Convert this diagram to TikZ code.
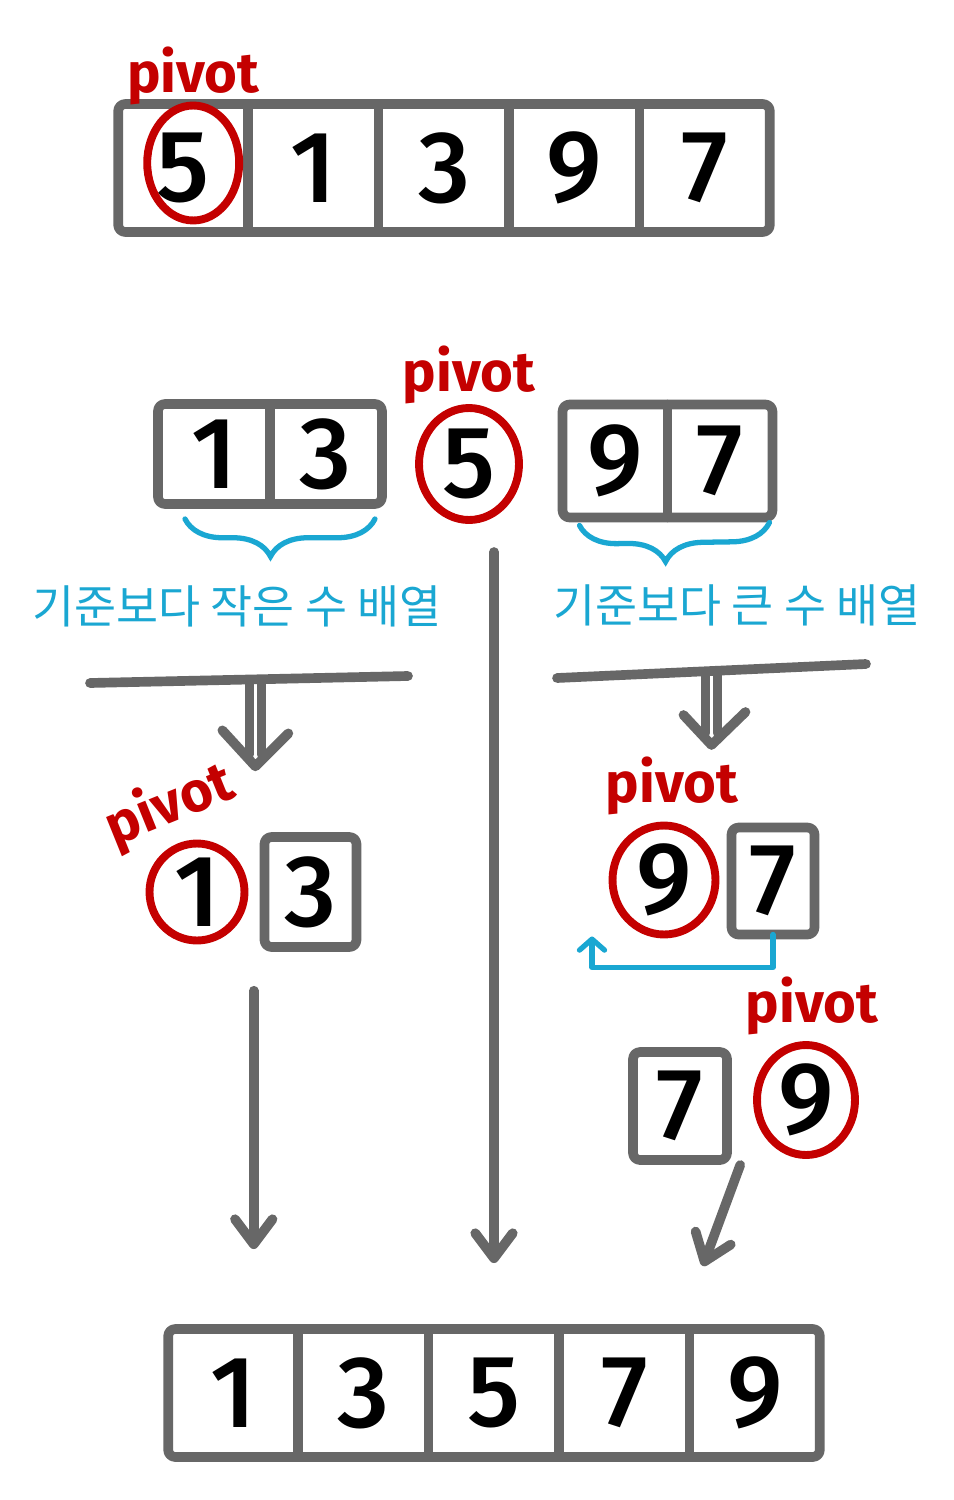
\documentclass[tikz,border=0pt]{standalone}
\usepackage{fontspec}
\setmainfont{Fira Sans}
\newfontfamily\digfont{Fira Sans Medium}
\newfontfamily\krfont{Noto Sans CJK KR}
\usetikzlibrary{positioning,arrows.meta,calc,shapes.geometric,decorations.pathreplacing}
\definecolor{gray}{HTML}{676767}
\definecolor{red}{HTML}{C40000}
\definecolor{blue}{HTML}{1AA7D2}
\tikzset{
  pen/.style={draw=gray,line width=5.5pt,line cap=round,line join=round},
  box/.style={pen,rounded corners=4pt},
  num/.style={font=\digfont\fontsize{58}{58}\selectfont,text=black,inner sep=0pt,outer sep=0pt},
  acell/.style={num,minimum width=2.6cm,minimum height=2.56cm},
  ring/.style={ellipse,draw=red,line width=4.5pt,inner sep=0pt,outer sep=0pt},
  pivlbl/.style={font=\bfseries\fontsize{32}{32}\selectfont,text=red,inner sep=0pt},
  note/.style={font=\krfont\fontsize{26}{26}\selectfont,text=blue},
  brc/.style={draw=blue,line width=3pt,line cap=round,decorate,
    decoration={brace,mirror,amplitude=.75cm,aspect=.45}},
  flow/.style={pen,-{Straight Barb[round,length=.5cm,width=.75cm]}},
  swap/.style={draw=blue,line width=3pt,line cap=round,line join=round,
    -{Straight Barb[round,length=.22cm,width=.5cm]}},
}
\begin{document}
\begin{tikzpicture}[x=.02cm,y=-.02cm]
        \fill[white] (0,0) rectangle (953,1500);
        \useasboundingbox (0,0) rectangle (953,1500);
        % input array
        \foreach \v [count=\i] in {5,1,3,9,7}{\node[acell] (a\i) at ({118+130.4*(\i-.5)},168){\v};}
        \draw[box] (a1.north west) rectangle (a5.south east);
        \foreach \i in {1,...,4}{\draw[pen] (a\i.north east)--(a\i.south east);}
        \node[ring,minimum width=1.84cm,minimum height=2.3cm] (ring0) at ($(a1)+(10,-5)$){};
        \node[pivlbl,above=0pt of ring0] (piv0){pivot};
        % split around the pivot
        \node[num,minimum width=2.24cm,minimum height=2cm] (l1) at (214,454){1};
        \node[num,minimum width=2.24cm,minimum height=2cm,right=0pt of l1] (l2){3};
        \draw[box] (l1.north west) rectangle (l2.south east);
        \draw[pen] (l1.north east)--(l1.south east);
        \node[ring,num,minimum width=2cm,minimum height=2.24cm] (ring5) at (469,464){5};
        \node[pivlbl,above=2pt of ring5] (piv5){pivot};
        \node[num,minimum width=2.1cm,minimum height=2.26cm] (r1) at (615,461){9};
        \node[num,minimum width=2.1cm,minimum height=2.26cm,right=0pt of r1] (r2){7};
        \draw[box] (r1.north west) rectangle (r2.south east);
        \draw[pen] (r1.north east)--(r1.south east);
        \draw[brc] ($(l1.south west)+(27,15)$)--($(l2.south east)+(-7,15)$);
        \draw[brc] ($(r1.south west)+(17,8)$)--($(r2.south east)+(-3,5)$);
        \node[note] (lnote) at (237,606){기준보다 작은 수 배열};
        \node[note] (rnote) at (737,605){기준보다 큰 수 배열};
        \draw[pen] (90,683)-- coordinate[pos=.52] (lbarm) (408,676);
        \draw[pen] (557,678)-- coordinate[pos=.5] (rbarm) (866,664);
        \coordinate (ltip) at ($(lbarm)+(0,87)$);
        \coordinate (rtip) at ($(rbarm)+(0,74)$);
        \foreach \s in {-6,6}{\draw[pen] ($(lbarm)+(\s,3)$)--($(ltip)+(\s,-12)$);
          \draw[pen] ($(rbarm)+(\s,3)$)--($(rtip)+(\s,-12)$);}
        \draw[pen] ($(ltip)+(-33,-36)$)--(ltip)--($(ltip)+(33,-33)$);
        \draw[pen] ($(rtip)+(-28,-30)$)--(rtip)--($(rtip)+(34,-33)$);
        % left part
        \node[ring,num,minimum width=1.9cm,minimum height=1.9cm] (ring1) at (197,892){1};
        \node[box,num,minimum width=1.84cm,minimum height=2.2cm,right=.4cm of ring1] (b3){3};
        \node[pivlbl,rotate=22] (piv1) at (170,806){pivot};
        % right part
        \node[ring,num,minimum width=2.06cm,minimum height=2.18cm] (ring9) at (664,880){9};
        \node[box,num,minimum width=1.66cm,minimum height=2.14cm] (b7) at (773,881){7};
        \node[pivlbl,above=.2cm of ring9,xshift=.16cm] (piv9){pivot};
        \draw[swap] (b7.south)--++(0,33) -| ($(ring9.south)+(-72,2)$);
        \node[box,num,minimum width=1.88cm,minimum height=2.16cm] (b7b) at (680,1106){7};
        \node[ring,num,minimum width=1.96cm,minimum height=2.2cm] (ring9b) at (806,1100){9};
        \node[pivlbl,above=.2cm of ring9b,xshift=.12cm] (piv9b){pivot};
        % sorted array
        \foreach \v [count=\i] in {1,3,5,7,9}{\node[acell] (d\i) at ({168+130.4*(\i-.5)},1393){\v};}
        \draw[box] (d1.north west) rectangle (d5.south east);
        \foreach \i in {1,...,4}{\draw[pen] (d\i.north east)--(d\i.south east);}
        \coordinate (lsub) at ($(ring1.south)!.5!(b3.south)$);
        \coordinate (rsub) at ($(b7b.south)!.5!(ring9b.south)$);
        \draw[flow,shorten <=.94cm,shorten >=1.6cm] (lsub)--(lsub |- d1.north);
        \draw[flow,shorten <=.64cm,shorten >=1.32cm] (ring5.south -| d3)--(d3.north);
        \draw[flow,shorten <=.16cm] (rsub)--($(d5.north west)+(13,-63)$);
      \end{tikzpicture}
\end{document}
